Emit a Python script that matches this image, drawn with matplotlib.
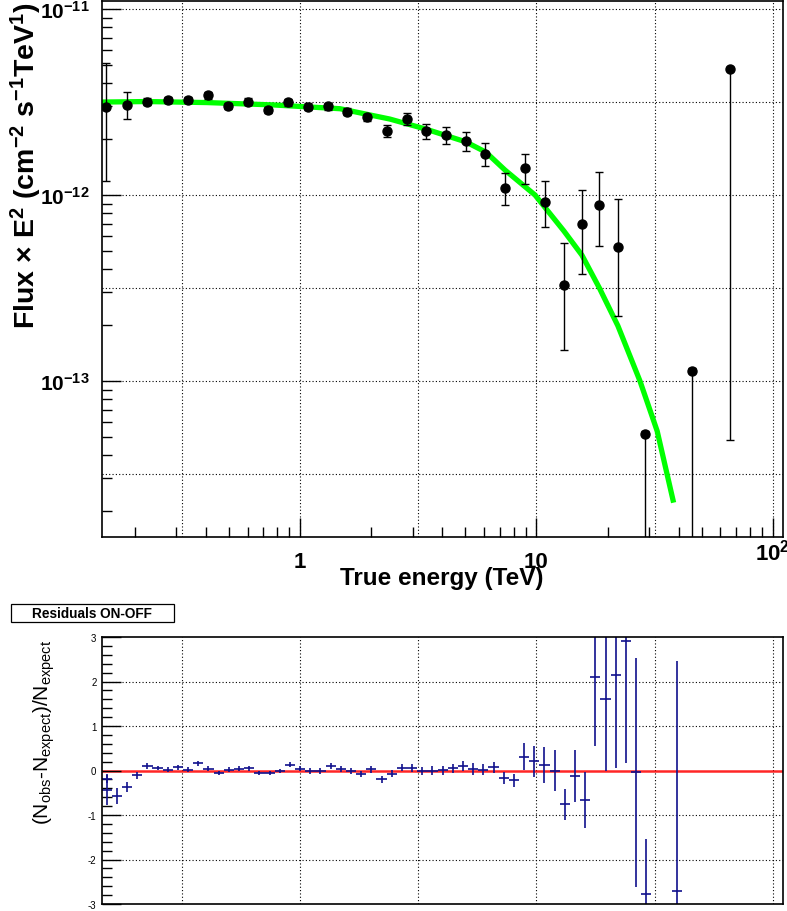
import matplotlib
matplotlib.use('Agg')
from matplotlib import pyplot as plt
from matplotlib.patches import Rectangle
from matplotlib.ticker import FixedLocator, FixedFormatter, NullFormatter, LogLocator, MultipleLocator

plt.rcParams['font.family'] = ['Liberation Sans', 'DejaVu Sans']
plt.rcParams['mathtext.default'] = 'regular'

# spectral points : E (TeV), E^2 x flux (cm-2 s-1 TeV), lower / upper end of the error bar
energy = [0.151, 0.186, 0.225, 0.276, 0.335, 0.410, 0.498, 0.604, 0.734, 0.890,
          1.08, 1.31, 1.585, 1.926, 2.333, 2.827, 3.42, 4.143, 5.02, 6.075,
          7.38, 8.97, 10.89, 13.07, 15.53, 18.43, 22.12, 28.84, 45.3, 65.8]
flux = [2.96e-12, 3.05e-12, 3.18e-12, 3.24e-12, 3.25e-12, 3.44e-12, 3.02e-12, 3.18e-12, 2.86e-12, 3.15e-12,
        2.99e-12, 3.00e-12, 2.80e-12, 2.62e-12, 2.22e-12, 2.56e-12, 2.21e-12, 2.10e-12, 1.95e-12, 1.66e-12,
        1.09e-12, 1.39e-12, 9.12e-13, 3.27e-13, 6.95e-13, 8.87e-13, 5.25e-13, 5.21e-14, 1.135e-13, 4.75e-12]
flux_lo = [1.19e-12, 2.55e-12, 3.05e-12, 3.11e-12, 3.12e-12, 3.30e-12, 2.90e-12, 3.05e-12, 2.75e-12, 3.02e-12,
           2.87e-12, 2.88e-12, 2.68e-12, 2.50e-12, 2.04e-12, 2.38e-12, 2.01e-12, 1.88e-12, 1.72e-12, 1.43e-12,
           8.87e-13, 1.14e-12, 6.73e-13, 1.47e-13, 3.78e-13, 5.33e-13, 2.23e-13, 1e-15, 1e-15, 4.82e-14]
flux_hi = [5.13e-12, 3.58e-12, 3.31e-12, 3.37e-12, 3.38e-12, 3.58e-12, 3.14e-12, 3.31e-12, 2.97e-12, 3.28e-12,
           3.11e-12, 3.12e-12, 2.92e-12, 2.74e-12, 2.39e-12, 2.77e-12, 2.42e-12, 2.32e-12, 2.19e-12, 1.91e-12,
           1.31e-12, 1.66e-12, 1.19e-12, 5.55e-13, 1.07e-12, 1.33e-12, 9.55e-13, 5.4e-14, 1.17e-13, 4.9e-12]

# fitted model (green curve)
model_E = [0.1455, 0.225, 0.404, 0.769, 1.476, 2.40, 3.41, 5.03, 6.11, 7.37,
           9.86, 13.07, 15.57, 18.46, 22.1, 27.4, 32.4, 37.8]
model_F = [3.16e-12, 3.18e-12, 3.14e-12, 3.05e-12, 2.91e-12, 2.56e-12, 2.26e-12, 1.93e-12, 1.70e-12, 1.36e-12,
           1.00e-12, 6.40e-13, 4.75e-13, 3.16e-13, 1.98e-13, 1.00e-13, 5.38e-14, 2.29e-14]

# residuals ON-OFF : bin centre (TeV), (Nobs-Nexp)/Nexp, error
res_E = [0.1523, 0.1523, 0.1682, 0.1857, 0.2050, 0.2264, 0.2500, 0.2760, 0.3048, 0.3366,
         0.3716, 0.4104, 0.4531, 0.5003, 0.5525, 0.6100, 0.6736, 0.7438, 0.8213, 0.9069,
         1.0014, 1.1058, 1.2210, 1.3483, 1.4888, 1.6439, 1.8153, 2.0044, 2.2133, 2.4440,
         2.6987, 2.9799, 3.2904, 3.6333, 4.0119, 4.4300, 4.8917, 5.4014, 5.9643, 6.5858,
         7.2721, 8.0299, 8.8667, 9.7907, 10.811, 11.938, 13.182, 14.556, 16.073, 17.747,
         19.597, 21.639, 23.894, 26.384, 29.134, 39.224]
res_val = [-0.19, -0.43, -0.57, -0.37, -0.11, 0.10, 0.06, 0.02, 0.07, 0.02,
           0.16, 0.04, -0.05, 0.02, 0.04, 0.05, -0.05, -0.05, -0.01, 0.13,
           0.04, -0.01, -0.01, 0.10, 0.03, -0.01, -0.07, 0.03, -0.20, -0.07,
           0.06, 0.06, -0.01, 0.00, 0.01, 0.05, 0.10, 0.03, 0.02, 0.07,
           -0.17, -0.22, 0.31, 0.21, 0.13, 0.00, -0.76, -0.13, -0.66, 2.11,
           1.60, 2.15, 2.91, -0.04, -2.78, -2.71]
res_err = [0.09, 0.35, 0.18, 0.11, 0.07, 0.07, 0.05, 0.06, 0.05, 0.05,
           0.05, 0.05, 0.04, 0.05, 0.05, 0.05, 0.05, 0.05, 0.05, 0.06,
           0.06, 0.06, 0.06, 0.07, 0.07, 0.07, 0.07, 0.08, 0.08, 0.08,
           0.08, 0.09, 0.09, 0.10, 0.10, 0.10, 0.12, 0.13, 0.13, 0.13,
           0.14, 0.14, 0.30, 0.35, 0.40, 0.46, 0.35, 0.58, 0.63, 1.57,
           1.60, 2.09, 2.75, 2.57, 1.24, 5.17]

x_ticks = [1, 10, 100]
x_ticklabels = ['1', '10', '10$^{2}$']
y_ticks = [1e-13, 1e-12, 1e-11]
y_ticklabels = ['10$^{-13}$', '10$^{-12}$', '10$^{-11}$']
res_ticks = [-3, -2, -1, 0, 1, 2, 3]
res_ticklabels = ['-3', '-2', '-1', '0', '1', '2', '3']

grid_E = [0.316, 1, 3.16, 10, 31.6, 100]
grid_F = [3.16e-14, 1e-13, 3.16e-13, 1e-12, 3.16e-12, 1e-11]
grid_R = [-2, -1, 1, 2]

W, H = 787, 912
fig = plt.figure(figsize=(W / 100, H / 100), dpi=100)

# ---- spectrum pad
ax = fig.add_axes([102 / W, 1 - 538 / H, 681 / W, 536 / H])
ax.set_xscale('log')
ax.set_yscale('log')
ax.set_xlim(0.1455, 110.3)
ax.set_ylim(1.45e-14, 1.104e-11)

for g in grid_E:
    ax.axvline(g, color='black', ls=(0, (1, 2)), lw=0.8, zorder=0.5)
for g in grid_F:
    ax.axhline(g, color='black', ls=(0, (1, 2)), lw=0.8, zorder=0.5)

ax.plot(model_E, model_F, color='#00ff00', lw=3.8, zorder=2)

yerr = [[f - lo for f, lo in zip(flux, flux_lo)], [hi - f for f, hi in zip(flux, flux_hi)]]
ax.errorbar(energy, flux, yerr=yerr, fmt='o', color='black', ms=6.5,
            elinewidth=1, capsize=3, capthick=1, zorder=3)

ax.xaxis.set_major_locator(FixedLocator(x_ticks))
ax.xaxis.set_major_formatter(NullFormatter())
ax.xaxis.set_minor_locator(LogLocator(base=10, subs=[2, 3, 4, 5, 6, 7, 8, 9]))
ax.xaxis.set_minor_formatter(NullFormatter())
ax.yaxis.set_major_locator(FixedLocator(y_ticks))
ax.yaxis.set_major_formatter(FixedFormatter(y_ticklabels))
ax.yaxis.set_minor_locator(LogLocator(base=10, subs=[2, 3, 4, 5, 6, 7, 8, 9]))
ax.yaxis.set_minor_formatter(NullFormatter())
ax.tick_params(which='both', direction='in', top=False, right=False, width=1)
ax.tick_params(which='major', length=14, labelsize=15, pad=9)
ax.tick_params(which='minor', length=7)
for t in ax.get_yticklabels():
    t.set_fontweight('bold')
for s in ax.spines.values():
    s.set_linewidth(1.2)

# x labels as in ROOT : the 10^2 one sits a little higher
xt = ax.get_xaxis_transform()
for v, lab in zip(x_ticks, x_ticklabels):
    ypix = 553 if '$' in lab else 563
    ax.text(v, (538 - ypix) / 536, lab, transform=xt, ha='center', va='center',
            fontsize=16, fontweight='bold', clip_on=False)

fig.text(442 / W, 1 - 578 / H, 'True energy (TeV)', ha='center', va='center',
         fontsize=17.5, fontweight='bold')
fig.text(26 / W, 1 - 2 / H, 'Flux × E$^{2}$ (cm$^{-2}$ s$^{-1}$TeV$^{1}$)', rotation=90,
         ha='center', va='top', fontsize=20.5, fontweight='bold')

# ---- residual pad
ax2 = fig.add_axes([102 / W, 1 - 905 / H, 681 / W, 267 / H])
ax2.set_xscale('log')
ax2.set_xlim(0.1455, 110.3)
ax2.set_ylim(-3, 3)

for g in grid_E:
    ax2.axvline(g, color='black', ls=(0, (1, 2)), lw=0.8, zorder=0.5)
for g in grid_R:
    ax2.axhline(g, color='black', ls=(0, (1, 2)), lw=0.8, zorder=0.5)
ax2.axhline(0, color='#ff0000', lw=1.8, alpha=0.85, zorder=1)

# horizontal bar = bin width
xerr = [[e - e / 1.051 for e in res_E], [e * 1.051 - e for e in res_E]]
ax2.errorbar(res_E, res_val, xerr=xerr, yerr=res_err, fmt='none', ecolor='#10108c',
             elinewidth=1.2, capsize=0, zorder=2)

ax2.yaxis.set_major_locator(FixedLocator(res_ticks))
ax2.yaxis.set_major_formatter(FixedFormatter(res_ticklabels))
ax2.yaxis.set_minor_locator(MultipleLocator(0.2))
ax2.tick_params(axis='x', which='both', bottom=False, top=False, labelbottom=False)
ax2.tick_params(axis='y', which='both', direction='in', right=False, width=1)
ax2.tick_params(axis='y', which='major', length=14, labelsize=7, pad=4)
ax2.tick_params(axis='y', which='minor', length=7)
for s in ax2.spines.values():
    s.set_linewidth(1.2)

fig.text(44 / W, 1 - 640 / H, '(N$_{obs}$-N$_{expect}$)/N$_{expect}$', rotation=90,
         ha='center', va='top', fontsize=15)

# title box of the residual pad
fig.patches.append(Rectangle((11 / W, 1 - 623 / H), 163 / W, 18 / H, transform=fig.transFigure,
                             facecolor='white', edgecolor='black', lw=0.9))
fig.text(92 / W, 1 - 614 / H, 'Residuals ON-OFF', ha='center', va='center',
         fontsize=9.8, fontweight='bold')

fig.savefig('out.png', dpi=100)
